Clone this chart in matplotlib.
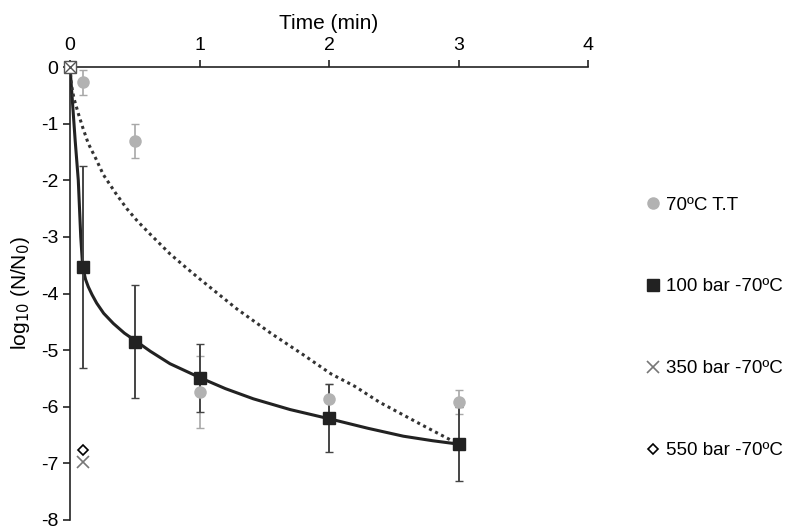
import matplotlib.pyplot as plt

plt.rcParams['font.family'] = ['Liberation Sans', 'DejaVu Sans']
plt.rcParams['axes.unicode_minus'] = False

# 70C thermal treatment
tt_t = [0.1, 0.5, 1, 2, 3]
tt_y = [-0.27, -1.30, -5.74, -5.86, -5.92]
tt_err = [0.22, 0.30, 0.63, 0.27, 0.21]

# 100 bar -70C
b100_t = [0.1, 0.5, 1, 2, 3]
b100_y = [-3.53, -4.85, -5.50, -6.20, -6.66]
b100_err = [1.78, 1.00, 0.60, 0.60, 0.65]

# 350 / 550 bar -70C (single points)
b350_t = [0.1]
b350_y = [-6.98]
b550_t = [0.1]
b550_y = [-6.77]

# common starting point
origin_t = [0]
origin_y = [0]

# fitted curves
fit100_t = [0, 0.02, 0.04, 0.064, 0.083, 0.098, 0.12, 0.141, 0.17, 0.206, 0.26, 0.335, 0.42,
            0.515, 0.62, 0.772, 1.017, 1.2, 1.416, 1.7, 2.016, 2.3, 2.574, 2.8, 3.0]
fit100_y = [0, -0.65, -1.3, -2.0, -3.0, -3.53, -3.75, -3.88, -4.02, -4.17, -4.35, -4.53, -4.70,
            -4.85, -5.02, -5.24, -5.50, -5.68, -5.86, -6.05, -6.22, -6.38, -6.52, -6.60, -6.66]
fitTT_t = [0, 0.01, 0.03, 0.064, 0.1, 0.141, 0.2, 0.257, 0.35, 0.438, 0.52, 0.618, 0.772,
           0.9, 1.0, 1.287, 1.55, 1.8, 2.016, 2.2, 2.39, 2.7, 3.0]
fitTT_y = [0, -0.30, -0.55, -0.82, -1.08, -1.35, -1.62, -1.90, -2.22, -2.50, -2.72, -2.95,
           -3.30, -3.55, -3.74, -4.27, -4.70, -5.08, -5.42, -5.64, -5.92, -6.30, -6.66]

fig = plt.figure(figsize=(7.87, 5.29), dpi=100)
ax = fig.add_axes([70 / 787, 1 - 520 / 529, 518 / 787, 453 / 529])

ax.plot(fit100_t, fit100_y, color='#222222', lw=2.2, zorder=2)
ax.plot(fitTT_t, fitTT_y, color='#333333', lw=2.2, ls=(0, (1, 1.2)), zorder=2)

ax.errorbar(tt_t, tt_y, yerr=tt_err, fmt='none', ecolor='#a8a8a8',
            elinewidth=1.2, capsize=3, zorder=3)
ax.errorbar(b100_t, b100_y, yerr=b100_err, fmt='none', ecolor='#444444',
            elinewidth=1.4, capsize=3, zorder=3)
ax.plot(tt_t, tt_y, 'o', color='#b2b2b2', ms=8, ls='none', label='70ºC T.T', zorder=4)
ax.plot(b100_t, b100_y, 's', color='#222222', ms=8.5, ls='none', label='100 bar -70ºC', zorder=4)
ax.plot(b350_t, b350_y, 'x', color='#777777', ms=8, mew=1.2, ls='none', label='350 bar -70ºC')
ax.plot(b550_t, b550_y, 'D', color='black', mfc='white', ms=5, mew=1.2, ls='none',
        label='550 bar -70ºC')

ax.plot(origin_t, origin_y, 's', mfc='white', mec='#555555', ms=9, mew=1, clip_on=False, zorder=5)
ax.plot(origin_t, origin_y, 'x', color='#555555', ms=8, mew=1, clip_on=False, zorder=6)

ax.set_xlim(0, 4)
ax.set_ylim(-8, 0)
ax.set_xticks([0, 1, 2, 3, 4])
ax.set_yticks(range(-8, 1))
ax.xaxis.tick_top()
ax.xaxis.set_label_position('top')
ax.spines['bottom'].set_visible(False)
ax.spines['right'].set_visible(False)
for s in ['top', 'left']:
    ax.spines[s].set_linewidth(1.2)
    ax.spines[s].set_color('#222222')
ax.tick_params(axis='both', labelsize=14, length=5, width=1.2, color='#222222')
ax.tick_params(axis='x', pad=4)
ax.set_xlabel('Time (min)', fontsize=15, labelpad=6)
ax.set_ylabel(r'log$_{10}$ (N/N$_0$)', fontsize=15, labelpad=6)

handles, labels = ax.get_legend_handles_labels()
fig.legend(handles, labels, loc='upper left', bbox_to_anchor=(638 / 787, 1 - 189 / 529),
           frameon=False, fontsize=13.5, labelspacing=3.45, handlelength=0.8,
           handletextpad=0.3, borderaxespad=0)

fig.savefig('out.png', dpi=100)
